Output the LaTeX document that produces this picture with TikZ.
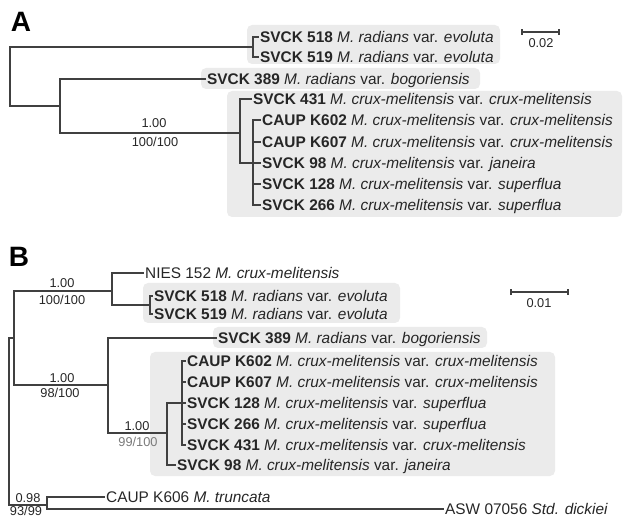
\documentclass[tikz,border=0pt]{standalone}
\usepackage{fontspec}
\setmainfont{Liberation Sans}
\definecolor{ln}{HTML}{404040}
\definecolor{tx}{HTML}{262626}
\definecolor{bx}{HTML}{EBEBEB}
\definecolor{gtx}{HTML}{7A7A7A}
\begin{document}
\begin{tikzpicture}[x=1pt,y=-1pt,
  leaf/.style={anchor=west,inner xsep=2pt,inner ysep=0pt,text height=11pt,text depth=0pt,
    font=\fontsize{15.4}{16}\selectfont,text=tx},
  br/.style={draw=ln,line width=2pt,line cap=rect},
  supp/.style={font=\fontsize{12.8}{13}\selectfont,text=tx,inner sep=0pt},
  grp/.style={fill=bx,rounded corners=5pt},
  panel/.style={font=\fontsize{28}{28}\selectfont\bfseries,text=black,inner sep=0pt},
  sbar/.style={draw=ln,line width=1.4pt}]
\useasboundingbox (0,0) rectangle (624,518);
% ---------------- grey groups
\fill[grp] (247,25) rectangle (500,64);
\fill[grp] (201,68) rectangle (480,89);
\fill[grp] (227,91) rectangle (622,217);
\fill[grp] (143,283) rectangle (400,323);
\fill[grp] (213,327) rectangle (487,348);
\fill[grp] (150,352) rectangle (555,476);
% ---------------- panel A
\node[panel] (pA) at (21,22) {A};
\node[leaf] (a518) at (258,37) {\textbf{SVCK 518} \textit{M. radians} var. \textit{evoluta}};
\node[leaf] (a519) at (258,57) {\textbf{SVCK 519} \textit{M. radians} var. \textit{evoluta}};
\node[leaf] (a389) at (205,79) {\textbf{SVCK 389} \textit{M. radians} var. \textit{bogoriensis}};
\node[leaf] (a431) at (251,99) {\textbf{SVCK 431} \textit{M. crux-melitensis} var. \textit{crux-melitensis}};
\node[leaf] (a602) at (260,120) {\textbf{CAUP K602} \textit{M. crux-melitensis} var. \textit{crux-melitensis}};
\node[leaf] (a607) at (260,142) {\textbf{CAUP K607} \textit{M. crux-melitensis} var. \textit{crux-melitensis}};
\node[leaf] (a98) at (260,163) {\textbf{SVCK 98} \textit{M. crux-melitensis} var. \textit{janeira}};
\node[leaf] (a128) at (260,184) {\textbf{SVCK 128} \textit{M. crux-melitensis} var. \textit{superflua}};
\node[leaf] (a266) at (260,205) {\textbf{SVCK 266} \textit{M. crux-melitensis} var. \textit{superflua}};
\coordinate (Ar) at (10,76);
\coordinate (Aev) at (253,47);
\coordinate (Ai1) at (60,106);
\coordinate (Acr) at (240,133);
\coordinate (Asub) at (253,163);
\draw[br] (Aev) -| (Ar) |- (Ai1);
\draw[br] (a518.west) -| (Aev) |- (a519.west);
\draw[br] (a389.west) -| (Ai1) |- (Acr);
\draw[br] (a431.west) -| (Acr) |- (Asub);
\draw[br] (a602.west) -| (Asub) |- (a266.west);
\draw[br] (Asub |- a607.west) -- (a607.west);
\draw[br] (Asub |- a98.west) -- (a98.west);
\draw[br] (Asub |- a128.west) -- (a128.west);
\node[supp] (lA1) at (154,123) {1.00};
\node[supp] (lA2) at (155,142) {100/100};
\coordinate (sA1) at (522,32);
\coordinate (sA2) at (559,32);
\draw[sbar] (sA1) -- (sA2);
\draw[sbar] ([yshift=-3pt]sA1) -- ([yshift=3pt]sA1);
\draw[sbar] ([yshift=-3pt]sA2) -- ([yshift=3pt]sA2);
\node[supp] (lsA) at (541,43) {0.02};
% ---------------- panel B
\node[panel] (pB) at (19,257) {B};
\node[leaf] (bNIES) at (143,273) {NIES 152 \textit{M. crux-melitensis}};
\node[leaf] (b518) at (152,296) {\textbf{SVCK 518} \textit{M. radians} var. \textit{evoluta}};
\node[leaf] (b519) at (152,314) {\textbf{SVCK 519} \textit{M. radians} var. \textit{evoluta}};
\node[leaf] (b389) at (216,338) {\textbf{SVCK 389} \textit{M. radians} var. \textit{bogoriensis}};
\node[leaf] (b602) at (185,361) {\textbf{CAUP K602} \textit{M. crux-melitensis} var. \textit{crux-melitensis}};
\node[leaf] (b607) at (185,382) {\textbf{CAUP K607} \textit{M. crux-melitensis} var. \textit{crux-melitensis}};
\node[leaf] (b128) at (185,403) {\textbf{SVCK 128} \textit{M. crux-melitensis} var. \textit{superflua}};
\node[leaf] (b266) at (185,424) {\textbf{SVCK 266} \textit{M. crux-melitensis} var. \textit{superflua}};
\node[leaf] (b431) at (185,445) {\textbf{SVCK 431} \textit{M. crux-melitensis} var. \textit{crux-melitensis}};
\node[leaf] (b98) at (175,465) {\textbf{SVCK 98} \textit{M. crux-melitensis} var. \textit{janeira}};
\node[leaf] (bK606) at (104,497) {CAUP K606 \textit{M. truncata}};
\node[leaf] (bASW) at (443,509) {ASW 07056 \textit{Std. dickiei}};
\coordinate (Broot) at (9,420);
\coordinate (Bn1) at (14,338);
\coordinate (Bn2) at (112,291);
\coordinate (Bev) at (150,305);
\coordinate (Bn3) at (108,385);
\coordinate (Bn4) at (167,433);
\coordinate (Bn5) at (182,403);
\coordinate (Bn6) at (47,505);
\draw[br] (Bn1) -| (Broot) |- (Bn6);
\draw[br] (Bn2) -| (Bn1) |- (Bn3);
\draw[br] (bNIES.west) -| (Bn2) |- (Bev);
\draw[br] (b518.west) -| (Bev) |- (b519.west);
\draw[br] (b389.west) -| (Bn3) |- (Bn4);
\draw[br] (Bn5) -| (Bn4) |- (b98.west);
\draw[br] (b602.west) -| (Bn5) |- (b431.west);
\draw[br] (Bn5 |- b607.west) -- (b607.west);
\draw[br] (Bn5 |- b128.west) -- (b128.west);
\draw[br] (Bn5 |- b266.west) -- (b266.west);
\draw[br] (bK606.west) -| (Bn6) |- (bASW.west);
\node[supp] (lB1) at (62,283) {1.00};
\node[supp] (lB2) at (62,300) {100/100};
\node[supp] (lB3) at (62,378) {1.00};
\node[supp] (lB4) at (60,393) {98/100};
\node[supp] (lB5) at (137,426) {1.00};
\node[supp,text=gtx] (lB6) at (138,442) {99/100};
\node[supp] (lB7) at (28,498) {0.98};
\node[supp] (lB8) at (26,511) {93/99};
\coordinate (sB1) at (511,292);
\coordinate (sB2) at (568,292);
\draw[sbar] (sB1) -- (sB2);
\draw[sbar] ([yshift=-3pt]sB1) -- ([yshift=3pt]sB1);
\draw[sbar] ([yshift=-3pt]sB2) -- ([yshift=3pt]sB2);
\node[supp] (lsB) at (539,303) {0.01};
\end{tikzpicture}
\end{document}
